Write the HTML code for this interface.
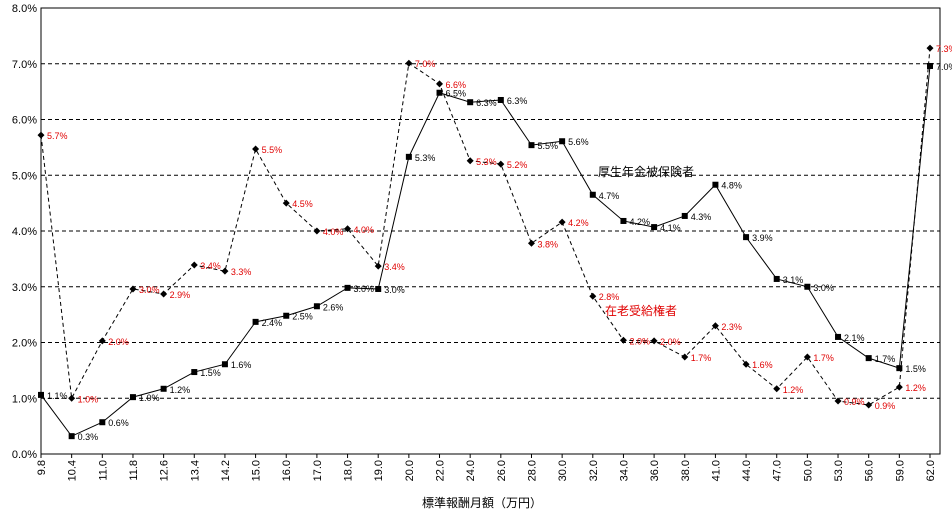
<!DOCTYPE html>
<html><head><meta charset="utf-8"><style>
body{margin:0;background:#fff;font-family:"Liberation Sans","Noto Sans CJK JP",sans-serif;}
svg text{font-family:"Liberation Sans","Noto Sans CJK JP",sans-serif;}
</style></head><body>
<svg id="c" width="952" height="515" xmlns="http://www.w3.org/2000/svg"></svg>
<script>
const categories=["9.8","10.4","11.0","11.8","12.6","13.4","14.2","15.0","16.0","17.0","18.0","19.0","20.0","22.0","24.0","26.0","28.0","30.0","32.0","34.0","36.0","38.0","41.0","44.0","47.0","50.0","53.0","56.0","59.0","62.0"];
const insuredValues=[1.06,0.32,0.57,1.02,1.17,1.47,1.61,2.37,2.48,2.65,2.98,2.96,5.33,6.48,6.31,6.35,5.54,5.61,4.65,4.18,4.07,4.27,4.83,3.89,3.14,3.0,2.1,1.72,1.54,6.96];
const pensionerValues=[5.72,1.0,2.03,2.96,2.87,3.39,3.28,5.47,4.5,4.0,4.04,3.37,7.01,6.64,5.26,5.2,3.78,4.16,2.83,2.04,2.03,1.74,2.3,1.61,1.17,1.74,0.95,0.88,1.2,7.28];
const yTicks=[0,1,2,3,4,5,6,7,8];
const NS="http://www.w3.org/2000/svg";
const svg=document.getElementById('c');
const L=41,R=940,T=8,B=454,X0=41,X1=930;
function xs(i){return X0+(X1-X0)*i/(categories.length-1);}
function ys(v){return B-(B-T)*v/8;}
function mk(tag,attrs,parent){const e=document.createElementNS(NS,tag);for(const k in attrs)e.setAttribute(k,attrs[k]);(parent||svg).appendChild(e);return e;}
yTicks.forEach(v=>{
  if(v>0&&v<8){const g=mk('line',{x1:L,x2:R,y1:ys(v),y2:ys(v),stroke:'#000','stroke-width':1,'stroke-dasharray':'4,3'});
  
  }
  const t=mk('text',{x:L-4,y:ys(v)+4,'text-anchor':'end','font-size':11,fill:'#000'});
  
  
  t.textContent=v.toFixed(1)+'%';
});
const fr=mk('rect',{x:L,y:T,width:R-L,height:B-T,fill:'none',stroke:'#000','stroke-width':1});


categories.forEach((c,i)=>{
  const tk=mk('line',{x1:xs(i),x2:xs(i),y1:B,y2:B+4,stroke:'#000'});
  
  
  const t=mk('text',{x:0,y:0,'font-size':11,fill:'#000','text-anchor':'end',transform:`translate(${xs(i)+4},${B+6}) rotate(-90)`});
  
  
  t.textContent=c;
});
function series(vals,dash,marker,labelColor,name){
  const pts=vals.map((v,i)=>xs(i)+','+ys(v)).join(' ');
  const pl=mk('polyline',{points:pts,fill:'none',stroke:'#000','stroke-width':1,'stroke-dasharray':dash});
  
  
  vals.forEach((v,i)=>{
    const x=xs(i),y=ys(v);let m;
    if(marker==='sq'){m=mk('rect',{x:x-3,y:y-3,width:6,height:6,fill:'#000'});}
    else{m=mk('polygon',{points:`${x},${y-3.5} ${x+3.5},${y} ${x},${y+3.5} ${x-3.5},${y}`,fill:'#000'});}
    
    
    const t=mk('text',{x:x+6,y:y+4,'font-size':9,fill:labelColor});
    
    
    t.textContent=v.toFixed(1)+'%';
  });
}
series(insuredValues,'none','sq','#000','insured');
series(pensionerValues,'4,3','dia','#e00000','pensioner');
const a1=mk('text',{x:598,y:176,'font-size':12,fill:'#000'});


a1.textContent='厚生年金被保険者';
const a2=mk('text',{x:605,y:315,'font-size':12,fill:'#e00000'});


a2.textContent='在老受給権者';
const xt=mk('text',{x:482,y:507,'font-size':12,fill:'#000','text-anchor':'middle'});


xt.textContent='標準報酬月額（万円）';
</script>
</body></html>
